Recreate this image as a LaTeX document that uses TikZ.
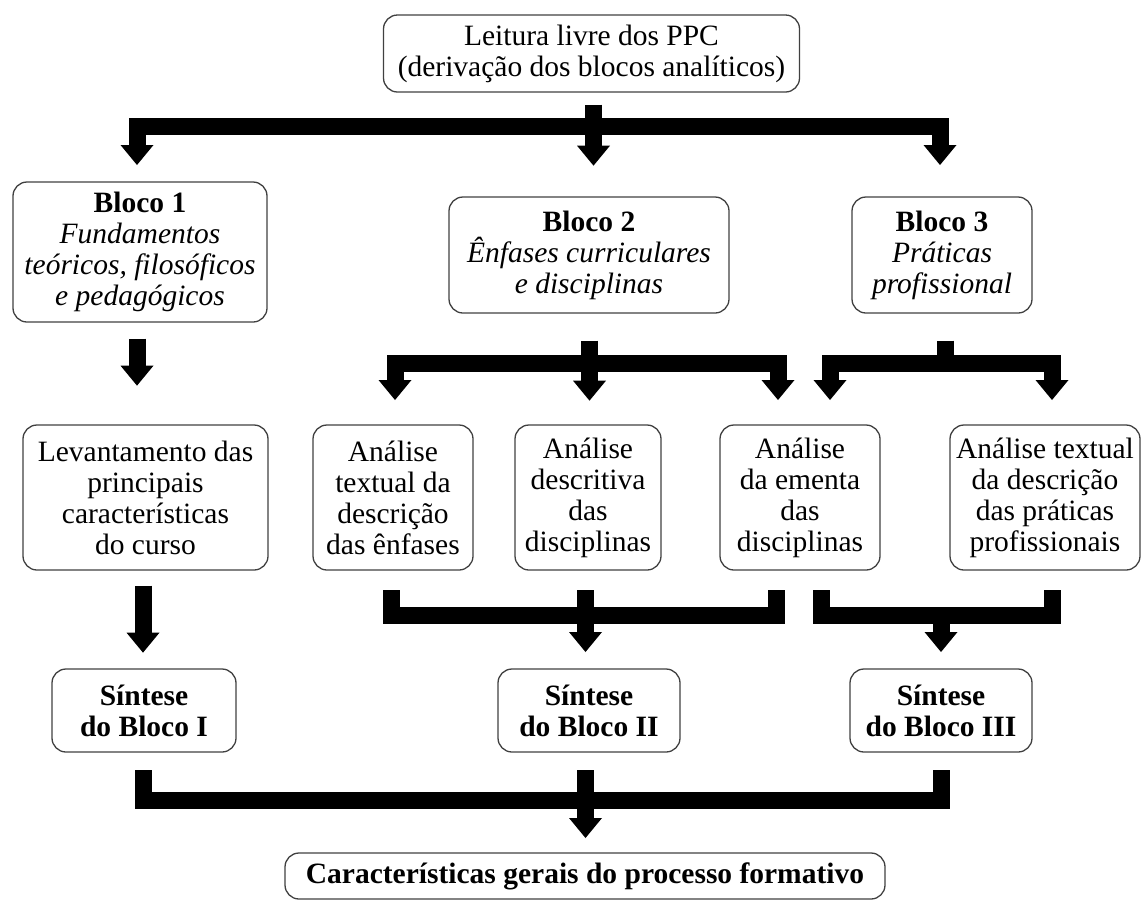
\documentclass[tikz,border=0pt]{standalone}
\usepackage{fontspec}
\setmainfont{Liberation Serif}
\usetikzlibrary{arrows.meta}

\tikzset{
  caixa/.style={draw=black!75, line width=1.3pt, rounded corners=14pt,
    align=center, inner sep=0pt, font=\fontsize{29.5}{31}\selectfont},
  sintese/.style={caixa, font=\fontsize{29.5}{31}\selectfont\bfseries},
  >={Triangle[width=33pt,length=20pt,line width=0pt]},
  barra/.style={line width=17pt, line join=miter},
}

\begin{document}
\begin{tikzpicture}[x=1pt,y=-1pt]
      \useasboundingbox (0,0) rectangle (1145,903);
      % caixas
      \node[caixa, minimum width=416pt, minimum height=77pt] (leitura) at (591.5,53.5)
        {Leitura livre dos PPC\\(derivação dos blocos analíticos)};
      \node[caixa, minimum width=254pt, minimum height=140pt] (bloco1) at (140,252)
        {\textbf{Bloco 1}\\\textit{Fundamentos}\\\textit{teóricos, filosóficos}\\\textit{e pedagógicos}};
      \node[caixa, minimum width=280pt, minimum height=116pt] (bloco2) at (589,255)
        {\textbf{Bloco 2}\\\textit{Ênfases curriculares}\\\textit{e disciplinas}};
      \node[caixa, minimum width=180pt, minimum height=116pt] (bloco3) at (942,255)
        {\textbf{Bloco 3}\\\textit{Práticas}\\\textit{profissional}};
      \node[caixa, minimum width=245pt, minimum height=145pt] (levant) at (145.5,497.5)
        {Levantamento das\\principais\\características\\do curso};
      \node[caixa, minimum width=160pt, minimum height=145pt] (enfases) at (393,497.5)
        {Análise\\textual da\\descrição\\das ênfases};
      \node[caixa, minimum width=146pt, minimum height=145pt] (descr) at (588,497.5)
        {Análise\\descritiva\\das\\disciplinas};
      \node[caixa, minimum width=160pt, minimum height=145pt] (ementa) at (800,497.5)
        {Análise\\da ementa\\das\\disciplinas};
      \node[caixa, minimum width=190pt, minimum height=145pt] (praticas) at (1045,497.5)
        {Análise textual\\da descrição\\das práticas\\profissionais};
      \node[sintese, minimum width=184pt, minimum height=83pt] (sint1) at (144,710.5)
        {Síntese\\do Bloco I};
      \node[sintese, minimum width=182pt, minimum height=83pt] (sint2) at (589,710.5)
        {Síntese\\do Bloco II};
      \node[sintese, minimum width=182pt, minimum height=83pt] (sint3) at (941,710.5)
        {Síntese\\do Bloco III};
      \node[sintese, minimum width=600pt, minimum height=46pt] (geral) at (585,876)
        {Características gerais do processo formativo};
      % pontos das setas
      \coordinate (t1) at (137,165);
      \coordinate (t3) at (940,165);
      \coordinate (e1) at (395,400);
      \coordinate (e3) at (778,400);
      \coordinate (p1) at (830,400);
      \coordinate (p2) at (1052,400);
      \coordinate (m1) at (391,590);
      \coordinate (m2) at (776.5,590);
      \coordinate (n1) at (821,590);
      \coordinate (n2) at (1052,590);
      \coordinate (q1) at (143,770);
      \coordinate (q3) at (941,770);
      % setas
      \draw[barra, ->] (leitura.south) ++(2,12) -- ++(0,61);
      \draw[barra, <->] (t1) -- (137,126.5) -- (940,126.5) -- (t3);
      \draw[barra, ->] (bloco1.south) ++(-3,16) -- ++(0,47);
      \draw[barra, ->] (bloco2.south) ++(0.5,27) -- ++(0,60);
      \draw[barra, <->] (e1) -- (395,363.5) -- (778,363.5) -- (e3);
      \draw[barra] (bloco3.south) ++(3,27) -- (945,363.5);
      \draw[barra, <->] (p1) -- (830,363.5) -- (1052,363.5) -- (p2);
      \draw[barra, ->] (levant.south) ++(-2.5,15) -- ++(0,67);
      \draw[barra] (m1) -- (391,615) -- (776.5,615) -- (m2);
      \draw[barra, ->] (585.5,590) -- (585.5,652);
      \draw[barra] (n1) -- (821,615) -- (1052,615) -- (n2);
      \draw[barra, ->] (941,615) -- (941,652);
      \draw[barra] (q1) -- (143,800) -- (941,800) -- (q3);
      \draw[barra, ->] (585.5,770) -- (585.5,838);
\end{tikzpicture}
\end{document}
